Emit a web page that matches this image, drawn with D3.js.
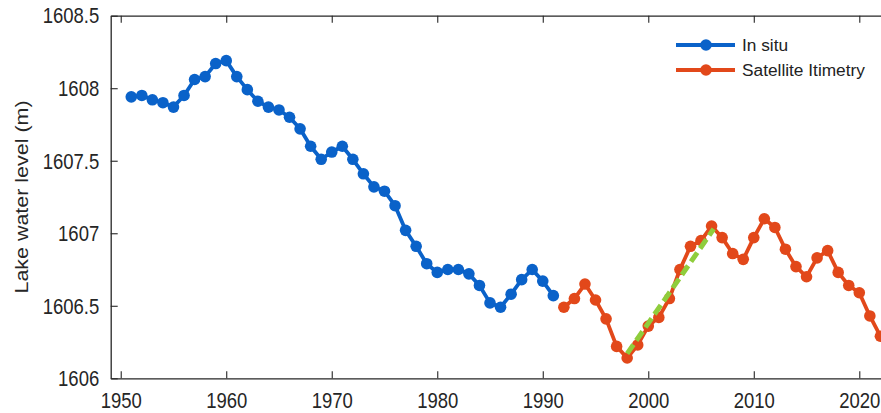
<!DOCTYPE html>
<html>
<head>
<meta charset="utf-8">
<script src="https://cdn.jsdelivr.net/npm/d3@7/dist/d3.min.js"></script>
<style>
  html, body { margin: 0; padding: 0; background: #fff; overflow: hidden; }
  svg { display: block; font-family: "Liberation Sans", Arial, sans-serif; }
</style>
</head>
<body>
<svg id="chart" width="881" height="413"></svg>
<script>
// ---- data ----
const inSituYears = [1951,1952,1953,1954,1955,1956,1957,1958,1959,1960,
  1961,1962,1963,1964,1965,1966,1967,1968,1969,1970,
  1971,1972,1973,1974,1975,1976,1977,1978,1979,1980,
  1981,1982,1983,1984,1985,1986,1987,1988,1989,1990,1991];
const inSituLevels = [1607.94,1607.95,1607.92,1607.90,1607.87,1607.95,1608.06,1608.08,1608.17,1608.19,
  1608.08,1607.99,1607.91,1607.87,1607.85,1607.80,1607.72,1607.60,1607.51,1607.56,
  1607.60,1607.51,1607.41,1607.32,1607.29,1607.19,1607.02,1606.91,1606.79,1606.73,
  1606.75,1606.75,1606.72,1606.64,1606.52,1606.49,1606.58,1606.68,1606.75,1606.67,1606.57];
const satYears = [1992,1993,1994,1995,1996,1997,1998,1999,2000,2001,
  2002,2003,2004,2005,2006,2007,2008,2009,2010,2011,
  2012,2013,2014,2015,2016,2017,2018,2019,2020,2021,2022];
const satLevels = [1606.49,1606.55,1606.65,1606.54,1606.41,1606.22,1606.14,1606.23,1606.36,1606.42,
  1606.55,1606.75,1606.91,1606.95,1607.05,1606.97,1606.86,1606.82,1606.97,1607.10,
  1607.04,1606.89,1606.77,1606.70,1606.83,1606.88,1606.73,1606.64,1606.59,1606.43,1606.29];
const trendYears = [1998, 2006.2];
const trendLevels = [1606.17, 1607.03];
const xTicks = [1950,1960,1970,1980,1990,2000,2010,2020];
const yTicks = [1606,1606.5,1607,1607.5,1608,1608.5];
const seriesNames = ["In situ", "Satellite Itimetry"];
const seriesColors = ["#0a62c9", "#e2481a"];
const trendColor = "#8fcd3c";

// ---- layout ----
const svg = d3.select("#chart");
const plotLeft = 110.7, plotTop = 15.7, plotBottom = 378.3;
const x = d3.scaleLinear().domain([1949.05, 2024]).range([plotLeft, plotLeft + (2024 - 1949.05) * 10.551]);
const y = d3.scaleLinear().domain([1606, 1608.5]).range([plotBottom, plotTop]);
const axisColor = "#262626";
const stretch = 1.16;

// frame: top axis (no labels)
const gTop = svg.append("g").attr("transform", `translate(0,${plotTop})`)
  .call(d3.axisTop(x).tickValues(xTicks).tickSizeInner(-7).tickSizeOuter(0).tickFormat(""));
// bottom axis
const gBot = svg.append("g").attr("transform", `translate(0,${plotBottom})`)
  .call(d3.axisBottom(x).tickValues(xTicks).tickSizeInner(-7).tickSizeOuter(0).tickFormat(d3.format("d")));
gBot.selectAll("text")
  .attr("y", 22.2 / stretch).attr("dy", "0.35em")
  .attr("transform", `scale(1,${stretch})`);
// left axis
const gLeft = svg.append("g").attr("transform", `translate(${plotLeft},0)`)
  .call(d3.axisLeft(y).tickValues(yTicks).tickSizeInner(-7).tickSizeOuter(0).tickPadding(11.5)
    .tickFormat(d => String(+d.toFixed(1))));
gLeft.selectAll("text").attr("dy", "0.34em").attr("transform", `scale(1,${stretch})`);

[gTop, gBot, gLeft].forEach(g => {
  g.select(".domain").attr("stroke", axisColor).attr("stroke-width", 1.3);
  g.selectAll(".tick line").attr("stroke", axisColor).attr("stroke-width", 1.1);
  g.selectAll("text").attr("fill", axisColor).attr("font-size", 18.5)
    .attr("font-family", "'Liberation Sans', Arial, sans-serif");
});

// y axis title
svg.append("text")
  .attr("transform", `translate(22,197) rotate(-90) scale(${stretch},1)`)
  .attr("text-anchor", "middle").attr("dy", "0.35em")
  .attr("font-size", 18.5).attr("fill", axisColor)
  .text("Lake water level (m)");

// ---- series ----
const line = d3.line().x(d => x(d[0])).y(d => y(d[1]));
const series = [
  d3.zip(inSituYears, inSituLevels),
  d3.zip(satYears, satLevels)
];
series.forEach((pts, i) => {
  svg.append("path").datum(pts).attr("d", line)
    .attr("fill", "none").attr("stroke", seriesColors[i])
    .attr("stroke-width", 3.8).attr("stroke-linejoin", "round");
  svg.append("g").selectAll("circle").data(pts).join("circle")
    .attr("cx", d => x(d[0])).attr("cy", d => y(d[1])).attr("r", 5.8)
    .attr("fill", seriesColors[i]);
});

// trend (dashed)
svg.append("path").datum(d3.zip(trendYears, trendLevels)).attr("d", line)
  .attr("fill", "none").attr("stroke", trendColor)
  .attr("stroke-width", 5).attr("stroke-dasharray", "11,5");

// ---- legend ----
const legend = svg.append("g").attr("transform", "translate(676,45)");
seriesNames.forEach((name, i) => {
  const g = legend.append("g").attr("transform", `translate(0,${i * 25})`);
  g.append("line").attr("x1", 0).attr("x2", 59).attr("y1", 0).attr("y2", 0)
    .attr("stroke", seriesColors[i]).attr("stroke-width", 3.8);
  g.append("circle").attr("cx", 30).attr("cy", 0).attr("r", 5.8).attr("fill", seriesColors[i]);
  g.append("text").attr("x", 66).attr("y", 0).attr("dy", "0.35em")
    .attr("font-size", 17.3).attr("fill", "#222").text(name);
});
</script>
</body>
</html>
